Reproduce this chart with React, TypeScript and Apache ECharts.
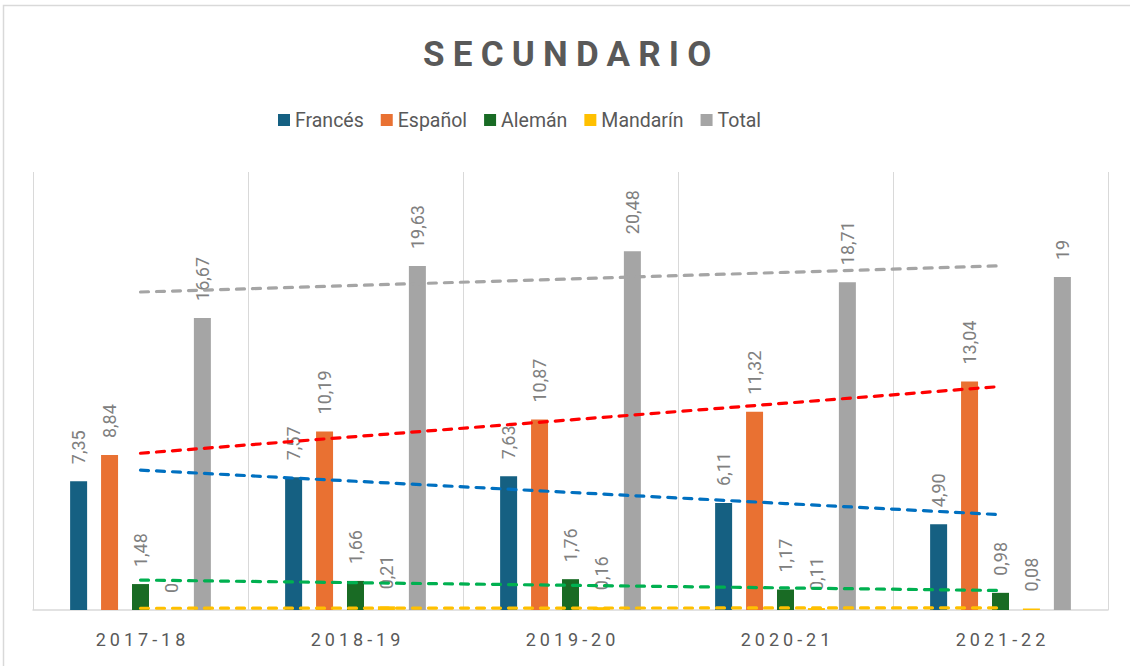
import React, { useEffect, useRef } from "react";
import * as echarts from "echarts";

const categories = ["2017-18", "2018-19", "2019-20", "2020-21", "2021-22"];
const frances = [7.35, 7.57, 7.63, 6.11, 4.9];
const espanol = [8.84, 10.19, 10.87, 11.32, 13.04];
const aleman = [1.48, 1.66, 1.76, 1.17, 0.98];
const mandarin = [0, 0.21, 0.16, 0.11, 0.08];
const total = [16.67, 19.63, 20.48, 18.71, 19];

const seriesNames = ["Francés", "Español", "Alemán", "Mandarín", "Total"];
const barColors = ["#156082", "#E97132", "#196B24", "#FFC000", "#A5A5A5"];
const trendColors = ["#0070C0", "#FF0000", "#00B050", "#FFC000", "#A5A5A5"];

// Linear (least squares) trendline over category index, like Excel's linear trendline
function linearTrend(values: number[]): number[] {
  const n = values.length;
  const xs = values.map((_, i) => i + 1);
  const mx = xs.reduce((a, b) => a + b, 0) / n;
  const my = values.reduce((a, b) => a + b, 0) / n;
  let num = 0;
  let den = 0;
  for (let i = 0; i < n; i++) {
    num += (xs[i] - mx) * (values[i] - my);
    den += (xs[i] - mx) * (xs[i] - mx);
  }
  const slope = num / den;
  const intercept = my - slope * mx;
  return xs.map((x) => +(intercept + slope * x).toFixed(4));
}

const fmt = (v: number) =>
  Number.isInteger(v) ? String(v) : v.toFixed(2).replace(".", ",");

export default function App() {
  const ref = useRef<HTMLDivElement>(null);

  useEffect(() => {
    const el = ref.current!;
    const chart = echarts.init(el, null, { renderer: "svg" });
    const allData = [frances, espanol, aleman, mandarin, total];
    const textColor = "#595959";
    const font = "Roboto, 'Noto Sans', sans-serif";

    const bars: any[] = allData.map((d, i) => ({
      name: seriesNames[i],
      type: "bar",
      data: d,
      barWidth: 17,
      barGap: "82%",
      itemStyle: { color: barColors[i] },
      z: 2,
      label: {
        show: true,
        position: "top",
        rotate: 90,
        align: "left",
        verticalAlign: "middle",
        distance: 17,
        color: "#808080",
        fontSize: 18,
        fontFamily: font,
        formatter: (p: any) => fmt(p.value),
      },
    }));

    const trends: any[] = allData.map((d, i) => ({
      name: seriesNames[i] + " trend",
      type: "line",
      data: linearTrend(d),
      symbol: "none",
      silent: true,
      z: 5,
      lineStyle: { color: trendColors[i], width: 3.2, type: [8, 8], cap: "round" },
    }));

    chart.setOption({
      animation: false,
      backgroundColor: "#ffffff",
      textStyle: { fontFamily: font },
      title: {
        text: "SECUNDARIO",
        left: 418,
        top: 32,
        textStyle: { fontSize: 35, fontWeight: "bold", color: textColor, fontFamily: font },
      },
      legend: {
        data: seriesNames,
        top: 105,
        left: 273,
        itemWidth: 12,
        itemHeight: 12,
        itemGap: 17,
        icon: "rect",
        textStyle: { fontSize: 19.5, color: textColor, fontFamily: font },
      },
      grid: { left: 33, right: 22, top: 172, bottom: 56, containLabel: false },
      xAxis: {
        type: "category",
        data: categories,
        axisTick: { show: false },
        axisLine: { lineStyle: { color: "#D9D9D9", width: 1.5 } },
        splitLine: { show: true, lineStyle: { color: "#D9D9D9", width: 1 } },
        axisLabel: { color: textColor, fontSize: 18, margin: 20, fontFamily: font },
      },
      yAxis: {
        type: "value",
        min: 0,
        max: 25,
        show: false,
        splitLine: { show: false },
      },
      graphic: [
        {
          type: "rect",
          shape: { x: 3.5, y: 5.5, width: 1300, height: 1000 },
          style: { fill: "none", stroke: "#D9D9D9", lineWidth: 1.5 },
          silent: true,
          z: -1,
        },
      ],
      series: [...bars, ...trends],
    });

    const applySpacing = () => {
      el.querySelectorAll("text").forEach((t) => {
        const s = t.textContent || "";
        if (s === "SECUNDARIO") {
          (t as SVGTextElement).style.letterSpacing = "8.2px";
        } else if (categories.includes(s)) {
          (t as SVGTextElement).style.letterSpacing = "4px";
          t.setAttribute("dx", "2");
        }
      });
    };
    applySpacing();
    chart.on("finished", applySpacing);

    return () => {
      chart.dispose();
    };
  }, []);

  return (
    <div
      ref={ref}
      style={{ position: "fixed", left: 0, top: 0, width: 1130, height: 666 }}
    />
  );
}
